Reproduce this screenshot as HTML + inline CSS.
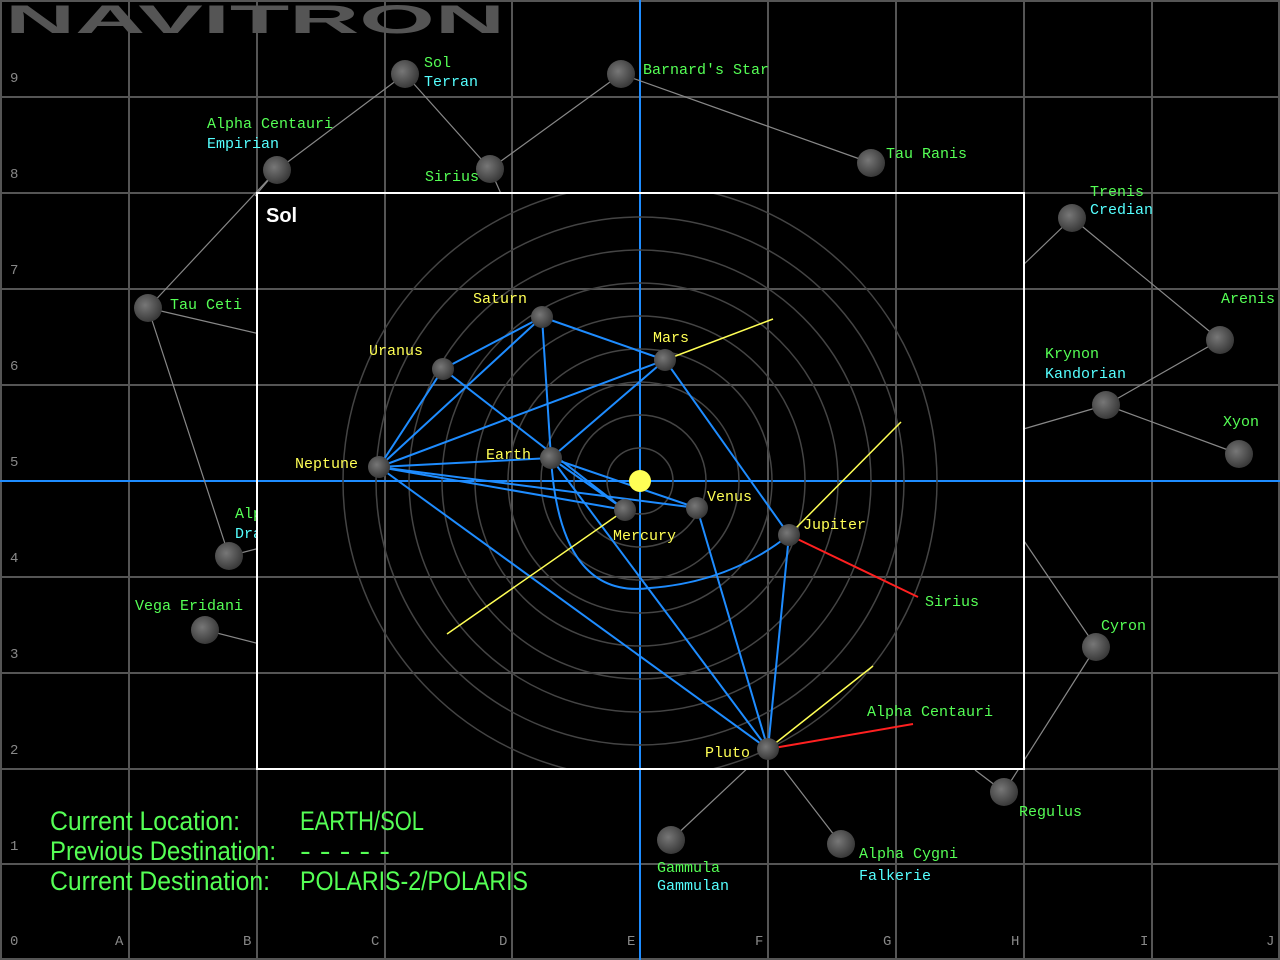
<!DOCTYPE html>
<html><head><meta charset="utf-8"><style>
html,body{margin:0;padding:0;background:#000;width:1280px;height:960px;overflow:hidden}
text{font-family:"Liberation Mono",monospace;font-size:15px}
.g{fill:#55ff55}.c{fill:#55ffff}.y{fill:#ffff55}.l{fill:#888;font-size:14px}
text.s{font-family:"Liberation Sans",sans-serif;font-size:27px;fill:#55ff55}
</style></head><body>
<svg width="1280" height="960" viewBox="0 0 1280 960" xmlns="http://www.w3.org/2000/svg">
<defs>
<radialGradient id="sp" cx="40%" cy="40%" r="60%"><stop offset="0" stop-color="#777"/><stop offset="1" stop-color="#3a3a3a"/></radialGradient>
<clipPath id="box"><rect x="257" y="193" width="767" height="576"/></clipPath>
<g id="grid" stroke="#555" stroke-width="2">
<line x1="1" y1="0" x2="1" y2="960"/><line x1="129" y1="0" x2="129" y2="960"/><line x1="257" y1="0" x2="257" y2="960"/><line x1="385" y1="0" x2="385" y2="960"/><line x1="512" y1="0" x2="512" y2="960"/><line x1="768" y1="0" x2="768" y2="960"/><line x1="896" y1="0" x2="896" y2="960"/><line x1="1024" y1="0" x2="1024" y2="960"/><line x1="1152" y1="0" x2="1152" y2="960"/><line x1="1279" y1="0" x2="1279" y2="960"/>
<line x1="0" y1="1" x2="1280" y2="1"/><line x1="0" y1="97" x2="1280" y2="97"/><line x1="0" y1="193" x2="1280" y2="193"/><line x1="0" y1="289" x2="1280" y2="289"/><line x1="0" y1="385" x2="1280" y2="385"/><line x1="0" y1="577" x2="1280" y2="577"/><line x1="0" y1="673" x2="1280" y2="673"/><line x1="0" y1="769" x2="1280" y2="769"/><line x1="0" y1="864" x2="1280" y2="864"/><line x1="0" y1="959" x2="1280" y2="959"/>
<line x1="640" y1="0" x2="640" y2="960" stroke="#1e8cff"/><line x1="0" y1="481" x2="1280" y2="481" stroke="#1e8cff"/>
</g>
</defs>
<use href="#grid"/>
<text x="5" y="33" textLength="500" lengthAdjust="spacingAndGlyphs" style="font-family:'Liberation Sans',sans-serif;font-size:40px;font-weight:bold;fill:#555">NAVITRON</text>
<g stroke="#888" stroke-width="1.2">
<line x1="277" y1="170" x2="405" y2="74"/><line x1="405" y1="74" x2="490" y2="169"/><line x1="490" y1="169" x2="621" y2="74"/><line x1="621" y1="74" x2="871" y2="163"/>
<line x1="277" y1="170" x2="148" y2="308"/><line x1="148" y1="308" x2="260" y2="334"/><line x1="148" y1="308" x2="229" y2="556"/><line x1="229" y1="556" x2="260" y2="548"/><line x1="205" y1="630" x2="260" y2="644"/><line x1="490" y1="169" x2="502" y2="196"/><line x1="277" y1="170" x2="255" y2="196"/>
<line x1="1072" y1="218" x2="1020" y2="268"/><line x1="1072" y1="218" x2="1220" y2="340"/><line x1="1220" y1="340" x2="1106" y2="405"/><line x1="1106" y1="405" x2="1239" y2="454"/><line x1="1106" y1="405" x2="1020" y2="430"/>
<line x1="1096" y1="647" x2="1004" y2="792"/><line x1="1096" y1="647" x2="1020" y2="535"/><line x1="1004" y1="792" x2="975" y2="770"/>
<line x1="768" y1="749" x2="671" y2="840"/><line x1="768" y1="749" x2="841" y2="844"/>
</g>
<text x="235" y="518" class="g">Alpha</text><text x="235" y="538" class="c">Draconis</text>
<rect x="257" y="193" width="767" height="576" fill="#000"/>
<g clip-path="url(#box)"><use href="#grid"/>
<g fill="none" stroke="#444" stroke-width="1.5">
<circle cx="640" cy="481" r="33"/><circle cx="640" cy="481" r="66"/><circle cx="640" cy="481" r="99"/><circle cx="640" cy="481" r="132"/><circle cx="640" cy="481" r="165"/><circle cx="640" cy="481" r="198"/><circle cx="640" cy="481" r="231"/><circle cx="640" cy="481" r="264"/><circle cx="640" cy="481" r="297"/>
</g>
</g>
<rect x="257" y="193" width="767" height="576" fill="none" stroke="#fff" stroke-width="2"/>
<text x="266" y="222" style="font-family:'Liberation Sans',sans-serif;font-size:20px;font-weight:bold;fill:#fff">Sol</text>
<g stroke="#1e8cff" stroke-width="2" fill="none">
<line x1="542" y1="317" x2="665" y2="360"/><line x1="542" y1="317" x2="443" y2="369"/><line x1="542" y1="317" x2="551" y2="458"/><line x1="542" y1="317" x2="379" y2="467"/>
<line x1="443" y1="369" x2="379" y2="467"/><line x1="443" y1="369" x2="625" y2="510"/>
<line x1="379" y1="467" x2="665" y2="360"/><line x1="379" y1="467" x2="551" y2="458"/><line x1="379" y1="467" x2="625" y2="510"/><line x1="379" y1="467" x2="697" y2="508"/><line x1="379" y1="467" x2="768" y2="749"/>
<line x1="551" y1="458" x2="665" y2="360"/><line x1="551" y1="458" x2="625" y2="510"/><line x1="551" y1="458" x2="697" y2="508"/><line x1="551" y1="458" x2="768" y2="749"/>
<line x1="665" y1="360" x2="789" y2="535"/><line x1="697" y1="508" x2="768" y2="749"/><line x1="789" y1="535" x2="768" y2="749"/>
<path d="M551 458 Q560 600 650 588 Q730 582 789 535"/>
</g>
<g stroke="#ffff55" stroke-width="1.5">
<line x1="665" y1="360" x2="773" y2="319"/><line x1="625" y1="510" x2="447" y2="634"/><line x1="789" y1="535" x2="901" y2="422"/><line x1="768" y1="749" x2="873" y2="666"/>
</g>
<g stroke="#ff2020" stroke-width="2">
<line x1="789" y1="535" x2="918" y2="597"/><line x1="768" y1="749" x2="913" y2="724"/>
</g>
<circle cx="640" cy="481" r="11" fill="#ffff55"/>
<g fill="url(#sp)">
<circle cx="625" cy="510" r="11"/><circle cx="697" cy="508" r="11"/><circle cx="551" cy="458" r="11"/><circle cx="665" cy="360" r="11"/><circle cx="789" cy="535" r="11"/><circle cx="542" cy="317" r="11"/><circle cx="443" cy="369" r="11"/><circle cx="379" cy="467" r="11"/><circle cx="768" cy="749" r="11"/>
<circle cx="405" cy="74" r="14"/><circle cx="621" cy="74" r="14"/><circle cx="277" cy="170" r="14"/><circle cx="490" cy="169" r="14"/><circle cx="871" cy="163" r="14"/><circle cx="1072" cy="218" r="14"/><circle cx="1220" cy="340" r="14"/><circle cx="1106" cy="405" r="14"/><circle cx="1239" cy="454" r="14"/><circle cx="148" cy="308" r="14"/><circle cx="229" cy="556" r="14"/><circle cx="205" cy="630" r="14"/><circle cx="1096" cy="647" r="14"/><circle cx="1004" cy="792" r="14"/><circle cx="671" cy="840" r="14"/><circle cx="841" cy="844" r="14"/>
</g>
<text x="424" y="67" class="g">Sol</text><text x="424" y="86" class="c">Terran</text>
<text x="643" y="74" class="g">Barnard's Star</text>
<text x="207" y="128" class="g">Alpha Centauri</text><text x="207" y="148" class="c">Empirian</text>
<text x="425" y="181" class="g">Sirius</text>
<text x="886" y="158" class="g">Tau Ranis</text>
<text x="1090" y="196" class="g">Trenis</text><text x="1090" y="214" class="c">Credian</text>
<text x="1221" y="303" class="g">Arenis</text>
<text x="1045" y="358" class="g">Krynon</text><text x="1045" y="378" class="c">Kandorian</text>
<text x="1223" y="426" class="g">Xyon</text>
<text x="170" y="309" class="g">Tau Ceti</text>
<text x="135" y="610" class="g">Vega Eridani</text>
<text x="1101" y="630" class="g">Cyron</text>
<text x="1019" y="816" class="g">Regulus</text>
<text x="657" y="872" class="g">Gammula</text><text x="657" y="890" class="c">Gammulan</text>
<text x="859" y="858" class="g">Alpha Cygni</text><text x="859" y="880" class="c">Falkerie</text>
<text x="925" y="606" class="g">Sirius</text>
<text x="867" y="716" class="g">Alpha Centauri</text>
<text x="473" y="303" class="y">Saturn</text><text x="653" y="342" class="y">Mars</text><text x="369" y="355" class="y">Uranus</text><text x="295" y="468" class="y">Neptune</text><text x="486" y="459" class="y">Earth</text><text x="707" y="501" class="y">Venus</text><text x="613" y="540" class="y">Mercury</text><text x="803" y="529" class="y">Jupiter</text><text x="705" y="757" class="y">Pluto</text>
<text x="10" y="82" class="l">9</text><text x="10" y="178" class="l">8</text><text x="10" y="274" class="l">7</text><text x="10" y="370" class="l">6</text><text x="10" y="466" class="l">5</text><text x="10" y="562" class="l">4</text><text x="10" y="658" class="l">3</text><text x="10" y="754" class="l">2</text><text x="10" y="850" class="l">1</text><text x="10" y="945" class="l">0</text>
<text x="115" y="945" class="l">A</text><text x="243" y="945" class="l">B</text><text x="371" y="945" class="l">C</text><text x="499" y="945" class="l">D</text><text x="627" y="945" class="l">E</text><text x="755" y="945" class="l">F</text><text x="883" y="945" class="l">G</text><text x="1011" y="945" class="l">H</text><text x="1140" y="945" class="l">I</text><text x="1266" y="945" class="l">J</text>
<text class="s" x="50" y="830" textLength="190" lengthAdjust="spacingAndGlyphs">Current Location:</text>
<text class="s" x="50" y="860" textLength="226" lengthAdjust="spacingAndGlyphs">Previous Destination:</text>
<text class="s" x="50" y="890" textLength="220" lengthAdjust="spacingAndGlyphs">Current Destination:</text>
<text class="s" x="300" y="830" textLength="124" lengthAdjust="spacingAndGlyphs">EARTH/SOL</text>
<text class="s" x="300" y="860" textLength="90" lengthAdjust="spacingAndGlyphs">- - - - -</text>
<text class="s" x="300" y="890" textLength="228" lengthAdjust="spacingAndGlyphs">POLARIS-2/POLARIS</text>
</svg>
</body></html>
